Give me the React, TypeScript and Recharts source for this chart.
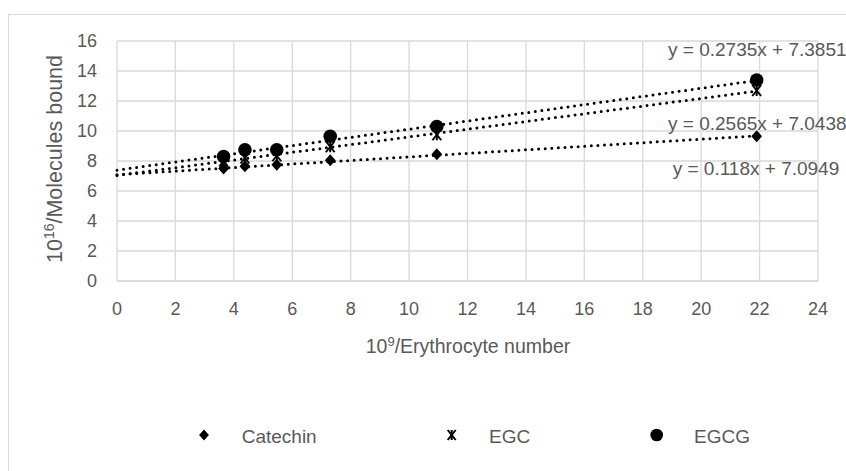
import React from 'react'
import { ScatterChart, Scatter, XAxis, YAxis, CartesianGrid } from 'recharts'

// 10^9 / erythrocyte number
const xValues = [3.65, 4.38, 5.47, 7.3, 10.95, 21.9]
const catechin = [7.5, 7.65, 7.75, 8.05, 8.45, 9.65]
const egc = [8.0, 8.2, 8.35, 8.95, 9.75, 12.7]
const egcg = [8.3, 8.75, 8.75, 9.65, 10.3, 13.4]

// trendline end points as drawn (x = 0 up to the last point)
const trendX = [0, 21.9]
const catechinTrend = [7.09, 9.68]
const egcTrend = [7.04, 12.66]
const egcgTrend = [7.39, 13.37]

const equations = ['y = 0.2735x + 7.3851', 'y = 0.2565x + 7.0438', 'y = 0.118x + 7.0949']
const seriesNames = ['Catechin', 'EGC', 'EGCG']

const xTicks = [0, 2, 4, 6, 8, 10, 12, 14, 16, 18, 20, 22, 24]
const yTicks = [0, 2, 4, 6, 8, 10, 12, 14, 16]

const toPoints = (xs: number[], ys: number[]) => xs.map((x, i) => ({ x, y: ys[i] }))

const FONT = '"Liberation Sans", Arial, sans-serif'
const TEXT = '#595959'
const GRID = '#d9d9d9'
const tickStyle = { fill: TEXT, fontSize: 18, fontFamily: FONT }
const trendLine = {
  stroke: '#000',
  strokeWidth: 3,
  strokeDasharray: '0 6.6',
  strokeLinecap: 'round' as const,
}

function Diamond({ cx, cy, s = 6 }: any) {
  return <polygon points={`${cx},${cy - s} ${cx + s * 0.9},${cy} ${cx},${cy + s} ${cx - s * 0.9},${cy}`} fill="#000" />
}

function Star({ cx, cy, s = 5.5 }: any) {
  return (
    <g stroke="#000" strokeWidth={2}>
      <line x1={cx - s * 0.8} y1={cy - s} x2={cx + s * 0.8} y2={cy + s} />
      <line x1={cx - s * 0.8} y1={cy + s} x2={cx + s * 0.8} y2={cy - s} />
      <line x1={cx} y1={cy - s} x2={cx} y2={cy + s} />
    </g>
  )
}

function Dot({ cx, cy, r = 6.8 }: any) {
  return <circle cx={cx} cy={cy} r={r} fill="#000" />
}

const noShape = () => <g />

export default function App() {
  return (
    <div style={{ position: 'relative', width: 846, height: 471, overflow: 'hidden', background: '#fff' }}>
      <style>{'body{margin:0;overflow:hidden}'}</style>
      <div
        style={{
          position: 'absolute',
          left: 8,
          top: 14,
          width: 900,
          height: 500,
          borderTop: `1px solid ${GRID}`,
          borderLeft: `1px solid ${GRID}`,
        }}
      />
      <div style={{ position: 'absolute', left: 0, top: 0 }}>
        <ScatterChart width={846} height={471} margin={{ top: 41, right: 28, bottom: 150, left: 57 }}>
          <CartesianGrid stroke={GRID} strokeWidth={1.3} />
          <XAxis
            type="number"
            dataKey="x"
            domain={[0, 24]}
            ticks={xTicks}
            height={40}
            tick={tickStyle}
            tickLine={false}
            tickSize={0}
            tickMargin={21}
            axisLine={{ stroke: GRID, strokeWidth: 1.3 }}
          />
          <YAxis
            type="number"
            dataKey="y"
            domain={[0, 16]}
            ticks={yTicks}
            width={60}
            tick={tickStyle}
            tickLine={false}
            tickSize={0}
            tickMargin={20}
            axisLine={false}
          />
          <Scatter data={toPoints(xValues, catechin)} shape={<Diamond />} isAnimationActive={false} />
          <Scatter data={toPoints(xValues, egc)} shape={<Star />} isAnimationActive={false} />
          <Scatter data={toPoints(xValues, egcg)} shape={<Dot />} isAnimationActive={false} />
          <Scatter data={toPoints(trendX, catechinTrend)} line={trendLine} shape={noShape} isAnimationActive={false} />
          <Scatter data={toPoints(trendX, egcTrend)} line={trendLine} shape={noShape} isAnimationActive={false} />
          <Scatter data={toPoints(trendX, egcgTrend)} line={trendLine} shape={noShape} isAnimationActive={false} />
        </ScatterChart>
      </div>
      <svg
        width={846}
        height={471}
        style={{ position: 'absolute', left: 0, top: 0, pointerEvents: 'none' }}
        fontFamily={FONT}
        fill={TEXT}
      >
        {/* axis titles */}
        <text x={62} y={159} fontSize={21.5} textAnchor="middle" transform="rotate(-90 62 159)">
          10<tspan fontSize={14} dy={-8}>16</tspan>
          <tspan dy={8}>/Molecules bound</tspan>
        </text>
        <text x={468} y={353} fontSize={19.5} textAnchor="middle">
          10<tspan fontSize={13} dy={-7}>9</tspan>
          <tspan dy={7}>/Erythrocyte number</tspan>
        </text>

        {/* trendline equations */}
        <text x={668} y={56} fontSize={19}>{equations[0]}</text>
        <text x={668} y={130} fontSize={19}>{equations[1]}</text>
        <text x={672.7} y={175} fontSize={19}>{equations[2]}</text>

        {/* legend */}
        <Diamond cx={204} cy={435} s={5.5} />
        <text x={241.7} y={442.5} fontSize={19}>{seriesNames[0]}</text>
        <Star cx={451.7} cy={435} s={5} />
        <text x={489} y={442.5} fontSize={19}>{seriesNames[1]}</text>
        <Dot cx={656.7} cy={435} r={6.3} />
        <text x={694} y={442.5} fontSize={19}>{seriesNames[2]}</text>
      </svg>
    </div>
  )
}
